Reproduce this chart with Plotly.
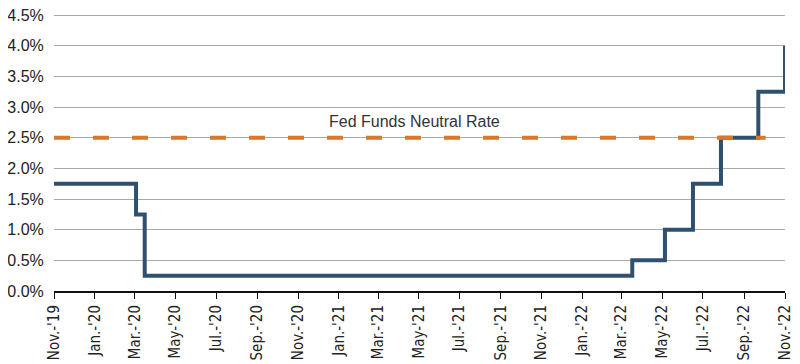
import plotly.graph_objects as go

# Fed funds (upper bound) step changes
step_dates = ["2019-11-01", "2020-03-03", "2020-03-16", "2022-03-17", "2022-05-05",
              "2022-06-16", "2022-07-28", "2022-09-22", "2022-11-01"]
step_rates = [1.75, 1.25, 0.25, 0.50, 1.00, 1.75, 2.50, 3.25, 4.00]

neutral_dates = ["2019-11-01", "2022-10-03"]
neutral_rates = [2.5, 2.5]

tick_dates = ["2019-11-01", "2020-01-01", "2020-03-01", "2020-05-01", "2020-07-01",
              "2020-09-01", "2020-11-01", "2021-01-01", "2021-03-01", "2021-05-01",
              "2021-07-01", "2021-09-01", "2021-11-01", "2022-01-01", "2022-03-01",
              "2022-05-01", "2022-07-01", "2022-09-01", "2022-11-01"]
tick_labels = ["Nov.-'19", "Jan.-'20", "Mar.-'20", "May-'20", "Jul.-'20", "Sep.-'20",
               "Nov.-'20", "Jan.-'21", "Mar.-'21", "May-'21", "Jul.-'21", "Sep.-'21",
               "Nov.-'21", "Jan.-'22", "Mar.-'22", "May-'22", "Jul.-'22", "Sep.-'22",
               "Nov.-'22"]

y_ticks = [0, 0.5, 1.0, 1.5, 2.0, 2.5, 3.0, 3.5, 4.0, 4.5]
y_labels = ["0.0%", "0.5%", "1.0%", "1.5%", "2.0%", "2.5%", "3.0%", "3.5%", "4.0%", "4.5%"]

XFONT = "DejaVu Sans Condensed, Liberation Sans Narrow, Liberation Sans, sans-serif"
YFONT = "Liberation Sans, Arial, sans-serif"

fig = go.Figure()
fig.add_trace(go.Scatter(
    x=step_dates, y=step_rates, mode="lines", line_shape="hv",
    line=dict(color="#30506f", width=4), showlegend=False, hoverinfo="skip"))
fig.add_trace(go.Scatter(
    x=neutral_dates, y=neutral_rates, mode="lines",
    line=dict(color="#d9782d", width=4, dash="16px,23px"), showlegend=False,
    hoverinfo="skip"))

fig.add_annotation(x="2021-04-25", y=2.76, text="Fed Funds Neutral Rate",
                   showarrow=False, font=dict(family=YFONT, size=16, color="#333333"))

# page body has an 8px default margin, so the figure is sized to fit inside it
fig.update_layout(
    width=792, height=356,
    margin=dict(l=46, r=15, t=6, b=73),
    paper_bgcolor="white", plot_bgcolor="white",
    font=dict(family=YFONT, size=15, color="#222222"),
    xaxis=dict(
        type="date", range=["2019-11-01", "2022-11-01"], automargin=False,
        tickvals=tick_dates, ticktext=tick_labels, tickangle=-90,
        ticklabeloverflow="allow",
        showgrid=False, showline=True, linecolor="#111111", linewidth=2,
        ticks="outside", ticklen=6, tickcolor="#111111", tickwidth=1,
        tickfont=dict(family=XFONT, size=15, color="#222222"), zeroline=False),
    yaxis=dict(
        range=[0, 4.52], tickvals=y_ticks, ticktext=y_labels, automargin=False,
        ticklabeloverflow="allow",
        showgrid=True, gridcolor="#aaaaaa", gridwidth=1, zeroline=False,
        ticks="outside", ticklen=6, tickcolor="rgba(0,0,0,0)",
        tickfont=dict(family=YFONT, size=16, color="#222222")),
)

fig.write_html("out.html")
